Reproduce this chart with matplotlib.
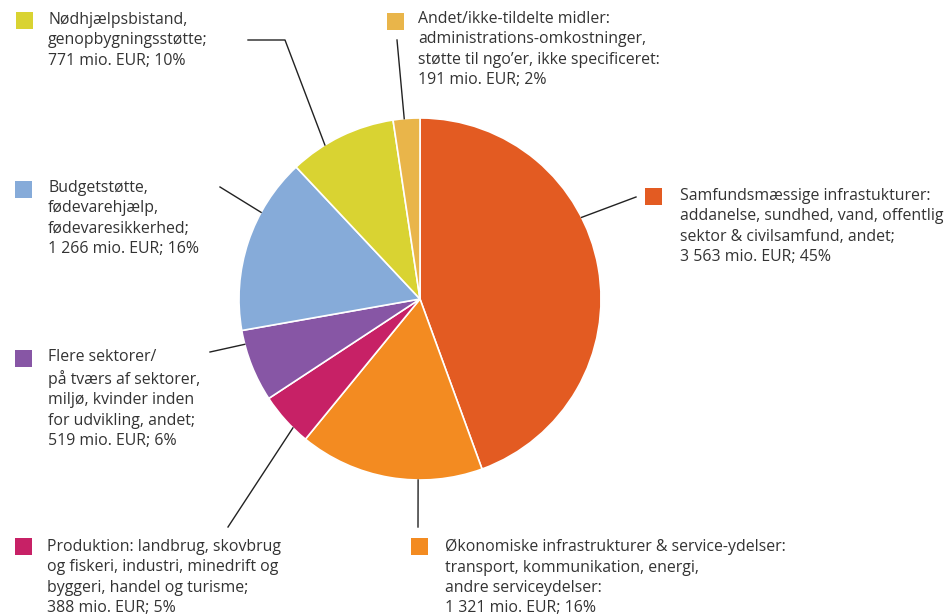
import numpy as np
import matplotlib.pyplot as plt

plt.rcParams['font.family'] = ['Open Sans', 'DejaVu Sans']

# Data (mio. EUR), clockwise from 12 o'clock
labels = [
    "Samfundsmæssige infrastukturer:\naddanelse, sundhed, vand, offentlig\nsektor & civilsamfund, andet;\n3 563 mio. EUR; 45%",
    "Økonomiske infrastrukturer & service-ydelser:\ntransport, kommunikation, energi,\nandre serviceydelser:\n1 321 mio. EUR; 16%",
    "Produktion: landbrug, skovbrug\nog fiskeri, industri, minedrift og\nbyggeri, handel og turisme;\n388 mio. EUR; 5%",
    "Flere sektorer/\npå tværs af sektorer,\nmiljø, kvinder inden\nfor udvikling, andet;\n519 mio. EUR; 6%",
    "Budgetstøtte,\nfødevarehjælp,\nfødevaresikkerhed;\n1 266 mio. EUR; 16%",
    "Nødhjælpsbistand,\ngenopbygningsstøtte;\n771 mio. EUR; 10%",
    "Andet/ikke-tildelte midler:\nadministrations-omkostninger,\nstøtte til ngo’er, ikke specificeret:\n191 mio. EUR; 2%",
]
values = [3563, 1321, 388, 519, 1266, 771, 191]
colors = ['#E35B22', '#F38B21', '#C72166', '#8756A5', '#86ABD9', '#D9D332', '#E9B54A']

# layout in pixel coords (image y from top)
W, H = 952, 616
cx, cy, r = 420, 299, 181
marker_xy = [(645, 188), (411, 538), (15, 538), (15, 350), (15, 181), (16, 12), (387, 13)]
text_xy = [(680, 188), (445, 539), (47, 539), (48, 349), (48, 180), (48, 12), (418, 11)]
leader_angle = [26.8, 269.4, 225.4, 194.5, 151.4, 121.7, 95.0]
leader_pts = [[(636, 197)], [(418, 527)], [(228, 527)], [(210, 352)], [(220, 187)],
              [(285, 40), (248, 40)], [(397, 40)]]

fig = plt.figure(figsize=(W / 100, H / 100), dpi=100)
ax = fig.add_axes([0, 0, 1, 1])

ax.pie(values, colors=colors, startangle=90, counterclock=False,
       center=(cx, H - cy), radius=r,
       wedgeprops=dict(edgecolor='white', linewidth=1.2), frame=True)
ax.set_xlim(0, W)
ax.set_ylim(0, H)
ax.set_aspect('equal')
ax.axis('off')

txt_color = '#333333'
for lab, col, (mx, my), (tx, ty), ang, pts in zip(labels, colors, marker_xy, text_xy,
                                                   leader_angle, leader_pts):
    ax.add_patch(plt.Rectangle((mx, H - my - 17), 17, 17, color=col, lw=0))
    ax.text(tx, H - ty, lab, fontsize=11.4, color=txt_color, va='top', ha='left',
            linespacing=1.36)
    a = np.deg2rad(ang)
    xs = [cx + r * np.cos(a)] + [p[0] for p in pts]
    ys = [H - cy + r * np.sin(a)] + [H - p[1] for p in pts]
    ax.plot(xs, ys, color='#222222', lw=1)

fig.savefig('out.png', dpi=100)
